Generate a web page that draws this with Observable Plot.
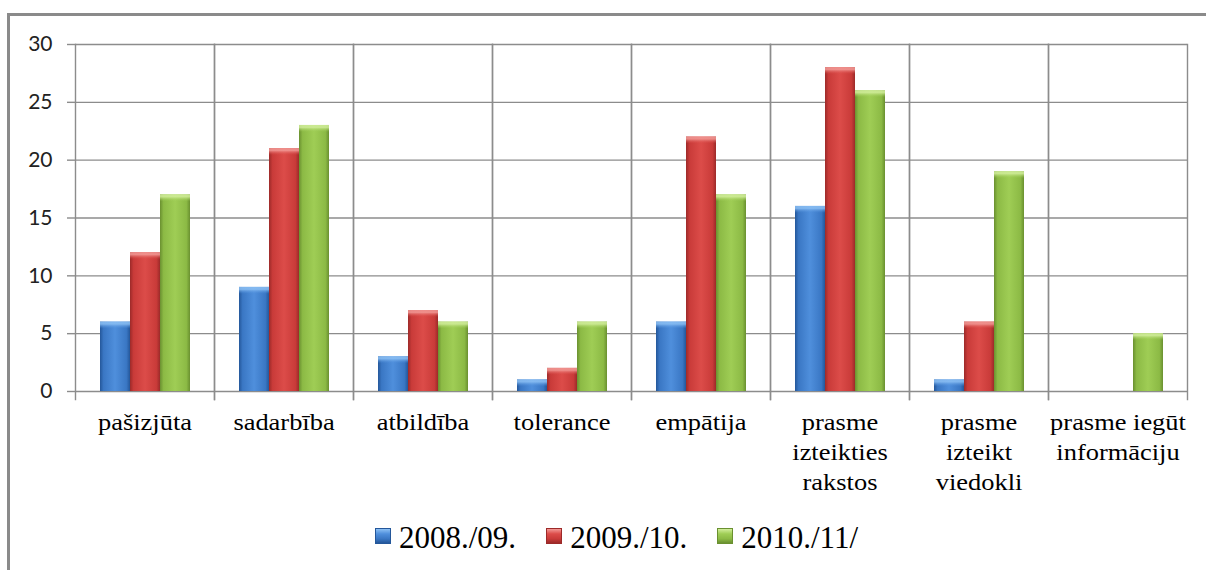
<!DOCTYPE html>
<html>
<head>
<meta charset="utf-8">
<script src="https://cdn.jsdelivr.net/npm/d3@7"></script>
<script src="https://cdn.jsdelivr.net/npm/@observablehq/plot@0.6"></script>
<style>
  body { margin: 0; background: #fff; }
  #wrap { position: relative; width: 1206px; height: 570px; overflow: hidden; background: #fff; }
  #chart { position: absolute; left: 0; top: 0; }
  .edge-top { position: absolute; left: 7px; top: 13px; width: 1199px; height: 3px; background: #8a8a8a; }
  .edge-left { position: absolute; left: 7px; top: 13px; width: 3px; height: 557px; background: #8a8a8a; }
  #legend { position: absolute; left: 375px; top: 520px; display: flex; align-items: flex-start;
            font-family: "Liberation Serif", "Times New Roman", serif; font-size: 31px; line-height: 35px;
            color: #000; white-space: nowrap; }
  #legend .item { display: flex; align-items: flex-start; margin-right: 30px; }
  #legend .sw { width: 16px; height: 16px; margin-top: 8px; margin-right: 8px; box-sizing: border-box; }
</style>
</head>
<body>
<div id="wrap">
  <div class="edge-top"></div>
  <div class="edge-left"></div>
  <div id="chart"></div>
  <div id="legend"></div>
</div>
<script>
// Categories (survey skills) and their axis labels
const categories = ["pašizjūta", "sadarbība", "atbildība", "tolerance", "empātija",
  "prasme izteikties rakstos", "prasme izteikt viedokli", "prasme iegūt informāciju"];
const categoryLabels = ["pašizjūta", "sadarbība", "atbildība", "tolerance", "empātija",
  "prasme\nizteikties\nrakstos", "prasme\nizteikt\nviedokli", "prasme iegūt\ninformāciju"];

// School years (series)
const seriesNames = ["2008./09.", "2009./10.", "2010./11/"];

// Counts per category for each school year
const values0809 = [6, 9, 3, 1, 6, 16, 1, 0];
const values0910 = [12, 21, 7, 2, 22, 28, 6, 0];
const values1011 = [17, 23, 6, 6, 17, 26, 19, 5];

// Value axis ticks
const yTicks = [0, 5, 10, 15, 20, 25, 30];

// Bar colours: [edge dark, body, centre light, bevel highlight]
const palette = [
  ["#24579a", "#3a77c4", "#4f8fdc", "#8cc0f4"],
  ["#9c2a29", "#c93b39", "#dc4c49", "#f29a96"],
  ["#6a9030", "#8cba45", "#9fcd55", "#d2ee9c"]
];

const seriesValues = [values0809, values0910, values1011];
const rows = [];
seriesNames.forEach((s, si) => {
  categories.forEach((c, ci) => rows.push({category: c, series: s, si, value: seriesValues[si][ci]}));
});
const labelOf = new Map(categories.map((c, i) => [c, categoryLabels[i]]));

const gridColor = "#8c8c8c";

const barMarks = [];
seriesNames.forEach((s, si) => {
  const data = rows.filter(d => d.si === si && d.value > 0);
  barMarks.push(Plot.barY(data, {fx: "category", x: "series", y: "value", fill: `url(#bar${si})`, inset: 0}));
  barMarks.push(Plot.barY(data, {fx: "category", x: "series", y1: "value", y2: "value",
    insetBottom: -7, insetLeft: 0, insetRight: 0, fill: `url(#bevel${si})`}));
});

const chart = Plot.plot({
  width: 1206,
  height: 500,
  marginTop: 44,
  marginBottom: 109,
  marginLeft: 74,
  marginRight: 19,
  style: {background: "transparent", overflow: "visible"},
  fx: {domain: categories, padding: 0, label: null, axis: null},
  x: {domain: seriesNames, paddingInner: 0, paddingOuter: 0.8, axis: null},
  y: {domain: [0, 30], axis: null},
  marks: [
    Plot.gridY(yTicks, {stroke: gridColor, strokeOpacity: 1, strokeWidth: 1.4}),
    Plot.frame({anchor: "left", stroke: gridColor, strokeWidth: 1.4, insetBottom: -8}),
    Plot.frame({anchor: "right", stroke: gridColor, strokeWidth: 1.4, insetBottom: -8}),
    Plot.axisY(yTicks, {tickSize: 8, tickPadding: 15, stroke: gridColor, strokeWidth: 1.4, fill: "#222",
      fontSize: 21, fontFamily: "Lato, 'Open Sans', sans-serif", label: null}),
    Plot.axisFx({anchor: "bottom", tickSize: 0, tickPadding: 17, tickFormat: d => labelOf.get(d), fill: "#000",
      fontSize: 23, fontFamily: "'Liberation Serif', 'Times New Roman', serif", lineHeight: 1.3, label: null}),
    ...barMarks
  ]
});

const svg = d3.select(chart);

// Category labels are set slightly wide
svg.selectAll('g[aria-label="fx-axis tick label"] text').each(function() {
  const t = this.getAttribute("transform");
  if (t) this.setAttribute("transform", t + " scale(1.15,1)");
});

// Gradient fills for the bars and their bevelled tops
const defs = svg.insert("defs", ":first-child");
palette.forEach((p, i) => {
  const g = defs.append("linearGradient").attr("id", `bar${i}`).attr("x1", 0).attr("x2", 1).attr("y1", 0).attr("y2", 0);
  [[0, p[0]], [0.12, p[1]], [0.5, p[2]], [0.88, p[1]], [1, p[0]]].forEach(([o, c]) =>
    g.append("stop").attr("offset", o).attr("stop-color", c));
  const b = defs.append("linearGradient").attr("id", `bevel${i}`).attr("x1", 0).attr("x2", 0).attr("y1", 0).attr("y2", 1);
  [[0, p[3]], [0.35, p[3]], [1, p[2]]].forEach(([o, c]) =>
    b.append("stop").attr("offset", o).attr("stop-color", c).attr("stop-opacity", o === 1 ? 0 : 0.85));
});

document.getElementById("chart").appendChild(chart);

// Legend
const legend = d3.select("#legend");
seriesNames.forEach((s, i) => {
  const p = palette[i];
  const item = legend.append("div").attr("class", "item");
  item.append("div").attr("class", "sw")
    .style("background", `linear-gradient(180deg, ${p[3]} 0%, ${p[2]} 35%, ${p[1]} 70%, ${p[0]} 100%)`)
    .style("border", `1px solid ${p[0]}`);
  item.append("span").text(s);
});
</script>
</body>
</html>
